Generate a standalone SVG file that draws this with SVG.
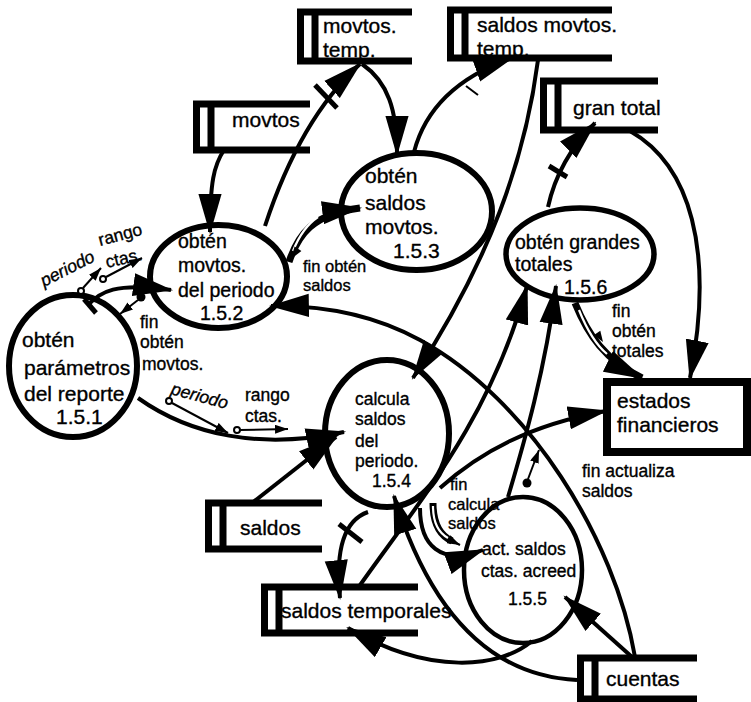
<svg xmlns="http://www.w3.org/2000/svg" width="751" height="702" viewBox="0 0 751 702">
<defs>
<style>
text{font-family:"Liberation Sans",Arial,Helvetica,sans-serif;fill:#000;stroke:#000;stroke-width:0.35}
.t21{font-size:21px}
.t20{font-size:19.5px}
.t17{font-size:17.5px}
.t16{font-size:16.5px}
.it{font-style:italic}
.proc{fill:none;stroke:#000;stroke-width:6}
.store{fill:none;stroke:#000;stroke-width:7;stroke-linejoin:miter}
.flow{fill:none;stroke:#000;stroke-width:4}
.ctl{fill:none;stroke:#000;stroke-width:2}
.dblb{fill:none;stroke:#000;stroke-width:7}
.dblw{fill:none;stroke:#fff;stroke-width:2.2}
.tick{stroke:#000;stroke-width:5}
.oc{fill:#fff;stroke:#000;stroke-width:2}
</style>
<marker id="ah" markerUnits="userSpaceOnUse" markerWidth="40" markerHeight="24" viewBox="0 0 38 22" refX="36" refY="11" orient="auto"><path d="M0,0 L38,11 L0,22 Z"/></marker>
<marker id="sa" markerUnits="userSpaceOnUse" markerWidth="13" markerHeight="9" viewBox="0 0 13 9" refX="13" refY="4.5" orient="auto"><path d="M0,0 L13,4.5 L0,9 Z"/></marker>
</defs>
<rect width="751" height="702" fill="#fff"/>

<g id="p151">
<ellipse class="proc" cx="73" cy="366" rx="64" ry="71"/>
<text class="t21"><tspan x="22" y="347">obtén</tspan><tspan x="24" y="375">parámetros</tspan><tspan x="24" y="401">del reporte</tspan><tspan x="56" y="424">1.5.1</tspan></text>
</g>
<g id="p152">
<ellipse class="proc" cx="218.5" cy="276.5" rx="68.5" ry="51.5"/>
<text class="t20"><tspan x="178" y="248">obtén</tspan><tspan x="178" y="272">movtos.</tspan><tspan x="178" y="297">del periodo</tspan><tspan x="200" y="320">1.5.2</tspan></text>
</g>
<g id="p153">
<ellipse class="proc" cx="416.5" cy="211.5" rx="75.5" ry="58.5"/>
<text class="t21"><tspan x="365" y="183">obtén</tspan><tspan x="365" y="210">saldos</tspan><tspan x="365" y="234">movtos.</tspan><tspan x="393" y="258">1.5.3</tspan></text>
</g>
<g id="p154">
<ellipse class="proc" cx="387" cy="433.5" rx="62" ry="73.5"/>
<text class="t17"><tspan x="355" y="405">calcula</tspan><tspan x="355" y="425">saldos</tspan><tspan x="355" y="447">del</tspan><tspan x="355" y="467">periodo.</tspan><tspan x="372" y="487">1.5.4</tspan></text>
</g>
<g id="p155">
<ellipse class="proc" cx="523" cy="570" rx="59" ry="73" style="stroke-width:4.5"/>
<text class="t17"><tspan x="482" y="555">act. saldos</tspan><tspan x="481" y="577">ctas. acreed</tspan><tspan x="508" y="605">1.5.5</tspan></text>
</g>
<g id="p156">
<ellipse class="proc" cx="580" cy="254" rx="74" ry="46" style="stroke-width:5.5"/>
<text class="t20"><tspan x="515" y="249">obtén grandes</tspan><tspan x="515" y="271">totales</tspan><tspan x="564" y="294">1.5.6</tspan></text>
</g>

<g id="s_movtos">
<path class="store" d="M310,104 H196.5 V150 H310 M211,104 V150"/>
<text class="t21" x="232" y="127">movtos</text>
</g>
<g id="s_movtos_temp">
<path class="store" d="M412,12 H300.5 V61 H412 M315,12 V61"/>
<text class="t21"><tspan x="323" y="33">movtos.</tspan><tspan x="323" y="57">temp.</tspan></text>
</g>
<g id="s_saldos_movtos_temp">
<path class="store" d="M612,10 H450.5 V58 H612 M465,10 V58"/>
<text class="t21"><tspan x="477" y="32">saldos movtos.</tspan><tspan x="477" y="56">temp.</tspan></text>
</g>
<g id="s_gran_total">
<path class="store" d="M658,81 H543.5 V130 H658 M558,81 V130"/>
<text class="t21" x="573" y="115">gran total</text>
</g>
<g id="e_estados">
<rect x="607" y="382" width="140" height="70" fill="#fff" stroke="#000" stroke-width="8"/>
<text class="t21"><tspan x="617" y="408">estados</tspan><tspan x="617" y="432">financieros</tspan></text>
</g>
<g id="s_saldos">
<path class="store" d="M322,503 H208.5 V549 H322 M223,503 V549"/>
<text class="t21" x="240" y="535">saldos</text>
</g>
<g id="s_saldos_temporales">
<path class="store" d="M418,587 H264.5 V633 H418 M279,587 V633"/>
<text class="t21" x="281" y="618">saldos temporales</text>
</g>
<g id="s_cuentas">
<path class="store" d="M697,658 H580.5 V699 H697 M595,658 V699"/>
<text class="t21" x="606" y="686">cuentas</text>
</g>

<g id="connectors">
<path class="flow" d="M224,150 C214,165 210,182 210,232" marker-end="url(#ah)"/>
<path class="flow" d="M265,226 C285,165 315,105 360,64" marker-end="url(#ah)"/>
<path class="flow" d="M362,64 C388,82 397,110 397,154" marker-end="url(#ah)"/>
<path class="flow" d="M414,152 C425,110 455,78 512,58" marker-end="url(#ah)"/>
<path class="flow" d="M88,305 C100,292 115,282 171,290" marker-end="url(#ah)"/>
<path class="flow" d="M635,657 C615,540 530,400 420,340 C380,318 330,305 271,306" marker-end="url(#ah)"/>
<path class="flow" d="M538,60 C525,160 490,260 413,378" marker-end="url(#ah)"/>
<path class="flow" d="M138,398 C190,435 260,450 344,432" marker-end="url(#ah)"/>
<path class="flow" d="M252,503 L336,437" marker-end="url(#ah)"/>
<path class="flow" d="M548,207 C555,175 570,148 595,123" marker-end="url(#ah)"/>
<path class="flow" d="M630,131 C690,165 715,250 690,378" marker-end="url(#ah)"/>
<path class="flow" d="M358,588 C420,500 490,420 527,286" marker-end="url(#ah)"/>
<path class="flow" d="M508,497 C525,440 545,370 556,286" marker-end="url(#ah)"/>
<path class="flow" d="M440,488 C480,452 530,425 606,411" marker-end="url(#ah)"/>
<path class="flow" d="M368,512 C345,520 335,548 340,598" marker-end="url(#ah)"/>
<path class="flow" d="M577,680 C490,676 430,612 394,496" marker-end="url(#ah)"/>
<path class="flow" d="M420,508 C420,545 440,566 483,550" marker-end="url(#ah)"/>
<path class="flow" d="M632,657 L565,597" marker-end="url(#ah)"/>
<path class="flow" d="M532,641 C500,668 430,676 348,628" marker-end="url(#ah)"/>
<path class="dblb" d="M289,262 C298,235 312,214 360,208" marker-end="url(#ah)"/>
<path class="dblw" d="M293,251 C299,236 306,225 318,217"/>
<polygon points="291,259 301.4,251 294.6,246.6"/>
<path class="dblb" d="M575,303 C588,335 605,360 642,378" marker-end="url(#ah)"/>
<path class="dblw" d="M579,310 C587,330 595,344 607,354"/>
<polygon points="603,342 600.3,330.8 593.7,335.2"/>
<path class="dblb" d="M433,503 C433,524 441,536 452,541"/>
<path class="dblw" d="M433,506 C433,523 439,533 448,538"/>
<path class="ctl" d="M450,540 L460,545" marker-end="url(#sa)"/>
<line class="tick" x1="315" y1="85" x2="337" y2="108"/>
<line x1="466" y1="86" x2="478" y2="95" stroke="#000" stroke-width="2"/>
<line class="tick" x1="549" y1="166" x2="567" y2="177"/>
<line class="tick" x1="339" y1="524" x2="362" y2="542"/>
<line class="tick" x1="84" y1="299" x2="96" y2="313"/>
<path class="ctl" d="M83,288 L101,268" marker-end="url(#sa)"/>
<circle class="oc" cx="81" cy="291" r="3"/>
<path class="ctl" d="M106,277 L142,258" marker-end="url(#sa)"/>
<circle class="oc" cx="103" cy="279" r="3"/>
<path class="ctl" d="M138,300 L120,314" marker-end="url(#sa)"/>
<circle cx="141" cy="297" r="4.5"/>
<path class="ctl" d="M172,403 L228,433" marker-end="url(#sa)"/>
<circle class="oc" cx="169" cy="401" r="3"/>
<path class="ctl" d="M240,430 L288,429" marker-end="url(#sa)"/>
<circle class="oc" cx="237" cy="430" r="3"/>
<path class="ctl" d="M528,479 L539,450" marker-end="url(#sa)"/>
<circle cx="527" cy="483" r="4.5"/>
</g>

<g id="labels">
<text class="t17 it" transform="translate(44,287) rotate(-27)">periodo</text>
<text class="t17" transform="translate(100,246) rotate(-15)">rango</text>
<text class="t17" transform="translate(107,268) rotate(-13)">ctas.</text>
<text class="t17"><tspan x="140" y="328">fin</tspan><tspan x="140" y="348">obtén</tspan><tspan x="142" y="370">movtos.</tspan></text>
<text class="t16"><tspan x="303" y="272">fin obtén</tspan><tspan x="303" y="291">saldos</tspan></text>
<text class="t17 it" transform="translate(170,394) rotate(15)">periodo</text>
<text class="t17"><tspan x="245" y="401">rango</tspan><tspan x="245" y="422">ctas.</tspan></text>
<text class="t17"><tspan x="612" y="317">fin</tspan><tspan x="612" y="337">obtén</tspan><tspan x="612" y="357">totales</tspan></text>
<text class="t17"><tspan x="582" y="477">fin actualiza</tspan><tspan x="582" y="497">saldos</tspan></text>
<text class="t16"><tspan x="450" y="490">fin</tspan><tspan x="448" y="510">calcula</tspan><tspan x="448" y="529">saldos</tspan></text>
</g>
</svg>
